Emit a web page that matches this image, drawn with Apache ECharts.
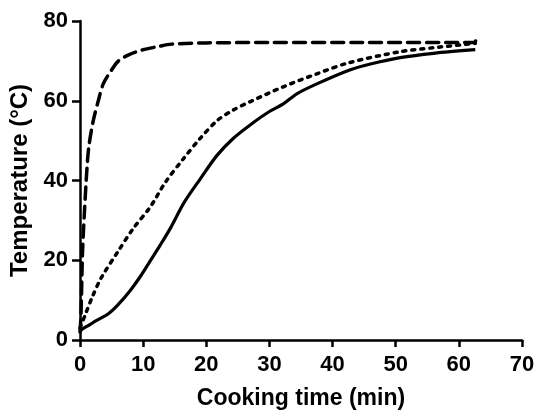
<!DOCTYPE html>
<html>
<head>
<meta charset="utf-8">
<script src="https://cdn.jsdelivr.net/npm/echarts@6/dist/echarts.min.js"></script>
<style>
  html, body { margin: 0; padding: 0; background: #fff; }
  #chart { width: 539px; height: 417px; }
</style>
</head>
<body>
<div id="chart"></div>
<script>
// curve data: [time (min), temperature (°C)]
const dashedCurve = [
  [0, 2], [0.15, 6], [0.4, 22], [0.7, 32], [1.1, 43], [1.4, 48.5], [2.1, 55],
  [2.9, 60], [3.7, 64.3], [5, 67.7], [6.1, 70], [7.7, 71.5], [9.8, 72.7],
  [12.4, 73.6], [14.5, 74.2], [20, 74.5], [30, 74.6], [45, 74.6], [62.5, 74.6], [62.7, 75.5]
];
const dottedCurve = [
  [0, 3], [0.8, 6.2], [2, 11], [3.4, 15.7], [6.1, 22.4], [8.4, 27.9], [11.1, 33.3],
  [13.5, 39.5], [16.4, 45.5], [19, 50.5], [21.7, 55], [24.3, 57.7], [27, 59.8],
  [32.2, 63.5], [37.6, 66.8], [42.5, 69.5], [50.7, 72.3], [56, 73.3], [62.6, 74.4]
];
const solidCurve = [
  [0, 2.2], [0.4, 2.8], [1.5, 3.8], [2.5, 4.8], [4.5, 6.6], [6, 8.8], [7.9, 12.3],
  [9.5, 15.8], [11.1, 19.8], [12.7, 23.8], [14.3, 28], [16.5, 34.5], [19, 40.3],
  [21.7, 46.3], [24.3, 50.6], [27, 54], [30, 57.3], [32.2, 59.2], [34.4, 61.8],
  [37.6, 64.3], [42.5, 67.6], [46, 69.2], [50.7, 70.8], [56, 71.9], [62.6, 72.8]
];
const xTicks = [0, 10, 20, 30, 40, 50, 60, 70];
const yTicks = [0, 20, 40, 60, 80];

const chart = echarts.init(document.getElementById('chart'));

const axisFont = {
  color: '#000',
  fontFamily: 'Liberation Sans, Arial, sans-serif',
  fontWeight: 'bold',
  fontSize: 22
};

const option = {
  animation: false,
  backgroundColor: '#fff',
  grid: { left: 80, right: 17, top: 21, bottom: 77 },
  xAxis: {
    type: 'value',
    min: xTicks[0],
    max: xTicks[xTicks.length - 1],
    interval: 10,
    name: 'Cooking time (min)',
    nameLocation: 'middle',
    nameGap: 47,
    nameTextStyle: { ...axisFont, fontSize: 23 },
    axisLine: { lineStyle: { color: '#000', width: 2.5 } },
    axisTick: { show: true, length: 7, lineStyle: { color: '#000', width: 2.5 } },
    axisLabel: { ...axisFont, margin: 14 },
    splitLine: { show: false }
  },
  yAxis: {
    type: 'value',
    min: yTicks[0],
    max: yTicks[yTicks.length - 1],
    interval: 20,
    name: 'Temperature (°C)',
    nameLocation: 'middle',
    nameGap: 45,
    nameRotate: 90,
    nameTextStyle: { ...axisFont, fontSize: 24 },
    axisLine: { show: true, lineStyle: { color: '#000', width: 2.5 } },
    axisTick: { show: true, length: 8, lineStyle: { color: '#000', width: 2.5 } },
    axisLabel: { ...axisFont, margin: 12 },
    splitLine: { show: false }
  },
  series: [
    {
      name: 'dashed',
      type: 'line',
      data: dashedCurve,
      smooth: 0.3,
      showSymbol: false,
      lineStyle: { color: '#000', width: 3.5, type: [12, 7], cap: 'round' }
    },
    {
      name: 'dotted',
      type: 'line',
      data: dottedCurve,
      smooth: 0.3,
      showSymbol: false,
      lineStyle: { color: '#000', width: 3.5, type: [3, 6], cap: 'round' }
    },
    {
      name: 'solid',
      type: 'line',
      data: solidCurve,
      smooth: 0.3,
      showSymbol: false,
      lineStyle: { color: '#000', width: 3.2 }
    }
  ]
};

chart.setOption(option);
</script>
</body>
</html>
